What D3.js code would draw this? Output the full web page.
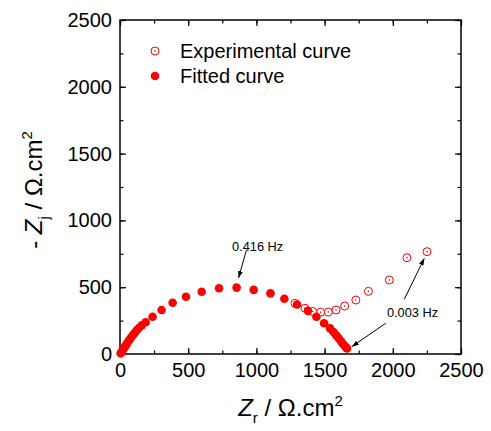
<!DOCTYPE html>
<html><head><meta charset="utf-8">
<script src="https://cdn.jsdelivr.net/npm/d3@7"></script>
<style>body{margin:0;background:#fff}svg{display:block}text{font-family:"Liberation Sans",Arial,sans-serif}</style>
</head><body><svg id="c" width="491" height="431"></svg>
<script>
// Fitted curve (Zr, -Zj) in Ω.cm²
const fittedZr = [5,12,20,28,37,46,56,67,79,92,106,121,138,160,188,239,305,386,484,599,726,855,980,1103,1205,1298,1378,1440,1496,1540,1565,1585,1603,1620,1635,1648,1658,1664];
const fittedZj = [5,15,28,42,55,70,86,103,120,138,156,175,194,215,238,279,329,384,429,466,492,497,480,454,414,370,323,279,230,192,165,140,118,95,75,60,48,42];
// Experimental curve points that are visible (others lie under the fitted markers)
const expZr = [1283,1356,1413,1471,1527,1584,1647,1729,1821,1975,2104,2251];
const expZj = [379,342,318,313,314,329,359,404,469,554,721,766];
const xTicks = [0,500,1000,1500,2000,2500];
const yTicks = [0,500,1000,1500,2000,2500];
const legendLabels = ["Experimental curve","Fitted curve"];
const annLabels = ["0.416 Hz","0.003 Hz"];

const svg = d3.select("#c");
const L=120,R=461,T=20,B=354;
const x = d3.scaleLinear().domain([0,2500]).range([L,R]);
const y = d3.scaleLinear().domain([0,2500]).range([B,T]);
const red = "#ff0000";

svg.append("defs").append("marker").attr("id","ah").attr("viewBox","0 0 10 10")
  .attr("refX",10).attr("refY",5).attr("markerWidth",7).attr("markerHeight",7)
  .attr("markerUnits","userSpaceOnUse").attr("orient","auto")
  .append("path").attr("d","M0,1.5L10,5L0,8.5Z").attr("fill","#000");

const minorX = d3.range(0,2501,250);
function axisGroup(axis, tr){ const g=svg.append("g").attr("transform",tr).call(axis); g.select(".domain").remove(); g.selectAll("line").attr("stroke","#000").attr("stroke-width",1.2); return g; }
const fs = "20px";
let g = axisGroup(d3.axisBottom(x).tickValues(minorX).tickSize(-3.5).tickFormat(""),`translate(0,${B})`);
g = axisGroup(d3.axisBottom(x).tickValues(xTicks).tickSize(-6).tickFormat(d3.format("d")),`translate(0,${B})`);
g.selectAll("text").attr("font-size",fs).attr("fill","#000").attr("dy","0.71em").attr("y",9);
axisGroup(d3.axisTop(x).tickValues(minorX).tickSize(-3.5).tickFormat(""),`translate(0,${T})`);
axisGroup(d3.axisTop(x).tickValues(xTicks).tickSize(-6).tickFormat(""),`translate(0,${T})`);
axisGroup(d3.axisLeft(y).tickValues(minorX).tickSize(-3.5).tickFormat(""),`translate(${L},0)`);
g = axisGroup(d3.axisLeft(y).tickValues(yTicks).tickSize(-6).tickPadding(8).tickFormat(d3.format("d")),`translate(${L},0)`);
g.selectAll("text").attr("font-size",fs).attr("fill","#000");
axisGroup(d3.axisRight(y).tickValues(minorX).tickSize(-3.5).tickFormat(""),`translate(${R},0)`);
axisGroup(d3.axisRight(y).tickValues(yTicks).tickSize(-6).tickFormat(""),`translate(${R},0)`);

svg.append("rect").attr("x",L).attr("y",T).attr("width",R-L).attr("height",B-T)
  .attr("fill","none").attr("stroke","#000").attr("stroke-width",1.5);

const expData = expZr.map((v,i)=>[v,expZj[i]]);
const fitData = fittedZr.map((v,i)=>[v,fittedZj[i]]);
const eg = svg.append("g");
eg.selectAll("circle.o").data(expData).join("circle").attr("cx",d=>x(d[0])).attr("cy",d=>y(d[1]))
  .attr("r",4).attr("fill","#fff").attr("stroke",red).attr("stroke-width",1);
eg.selectAll("circle.d").data(expData).join("circle").attr("cx",d=>x(d[0])).attr("cy",d=>y(d[1]))
  .attr("r",0.8).attr("fill",red);
svg.append("g").selectAll("circle").data(fitData).join("circle").attr("cx",d=>x(d[0])).attr("cy",d=>y(d[1]))
  .attr("r",4.3).attr("fill",red);

const lg = svg.append("g");
lg.append("circle").attr("cx",155).attr("cy",51).attr("r",4).attr("fill","#fff").attr("stroke",red);
lg.append("circle").attr("cx",155).attr("cy",51).attr("r",0.8).attr("fill",red);
lg.append("circle").attr("cx",155).attr("cy",76).attr("r",4.3).attr("fill",red);
lg.selectAll("text").data(legendLabels).join("text").attr("x",180).attr("y",(d,i)=>51+i*25)
  .attr("dy","0.35em").attr("font-size","20px").text(d=>d);

const ann = svg.append("g").attr("font-size","12.8px");
ann.append("text").attr("x",x(821)).attr("y",y(771)).text(annLabels[0]);
ann.append("text").attr("x",x(1957)).attr("y",y(275)).text(annLabels[1]);
const arrows = [[927,778,869,569],[2084,409,2231,716],[1948,230,1699,55]];
ann.selectAll("line").data(arrows).join("line")
  .attr("x1",d=>x(d[0])).attr("y1",d=>y(d[1])).attr("x2",d=>x(d[2])).attr("y2",d=>y(d[3]))
  .attr("stroke","#000").attr("stroke-width",1).attr("marker-end","url(#ah)");

const xt = svg.append("text").attr("x",(L+R)/2).attr("y",416).attr("text-anchor","middle").attr("font-size","24px");
xt.append("tspan").attr("font-style","italic").text("Z");
xt.append("tspan").attr("font-size","15px").attr("dy",7).text("r");
xt.append("tspan").attr("dy",-7).text(" / Ω.cm");
xt.append("tspan").attr("font-size","15px").attr("dy",-10).text("2");

const yt = svg.append("text").attr("transform",`translate(42,190) rotate(-90)`).attr("text-anchor","middle").attr("font-size","24px");
yt.append("tspan").text("- ");
yt.append("tspan").attr("font-style","italic").text("Z");
yt.append("tspan").attr("font-size","15px").attr("dy",7).text("j");
yt.append("tspan").attr("dy",-7).text(" / Ω.cm");
yt.append("tspan").attr("font-size","15px").attr("dy",-10).text("2");
</script></body></html>
